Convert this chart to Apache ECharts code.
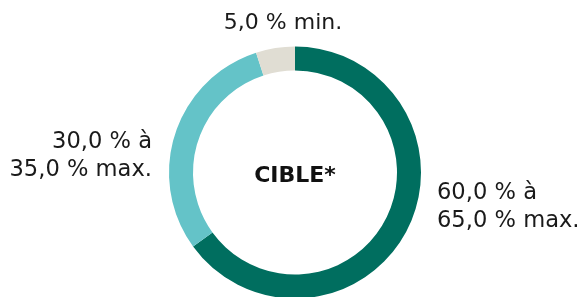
<!DOCTYPE html>
<html>
<head>
<meta charset="utf-8">
<script src="https://cdn.jsdelivr.net/npm/echarts@6/dist/echarts.min.js"></script>
<style>
html,body{margin:0;padding:0;background:#fff;}
#c{width:582px;height:297px;}
</style>
</head>
<body>
<div id="c"></div>
<script>
const categories = ['Actions', 'Obligations', 'Liquidités'];
const values = [65, 30, 5];
const colors = ['#006e5f', '#64c3c8', '#e0ddd3'];
const labelTexts = ['60,0 % à\n65,0 % max.', '30,0 % à\n35,0 % max.', '5,0 % min.'];
const centerText = 'CIBLE*';

const chart = echarts.init(document.getElementById('c'), null, {renderer: 'canvas'});
const font = '"DejaVu Sans", sans-serif';
const txt = '#1a1a1a';
chart.setOption({
  animation: false,
  series: [{
    type: 'pie',
    center: [295, 172.5],
    radius: [102, 126],
    startAngle: 90,
    clockwise: true,
    silent: true,
    label: {show: false},
    labelLine: {show: false},
    itemStyle: {borderWidth: 0},
    data: categories.map((n, i) => ({name: n, value: values[i], itemStyle: {color: colors[i]}}))
  }],
  graphic: [
    {type: 'text', style: {x: 437, y: 207, text: labelTexts[0], font: '22.6px ' + font, lineHeight: 28, fill: txt, textAlign: 'left', textVerticalAlign: 'middle'}},
    {type: 'text', style: {x: 152, y: 156, text: labelTexts[1], font: '22.6px ' + font, lineHeight: 28, fill: txt, textAlign: 'right', textVerticalAlign: 'middle'}},
    {type: 'text', style: {x: 283, y: 23, text: labelTexts[2], font: '22px ' + font, fill: txt, textAlign: 'center', textVerticalAlign: 'middle'}},
    {type: 'text', style: {x: 295, y: 176, text: centerText, font: 'bold 22px ' + font, fill: '#111', textAlign: 'center', textVerticalAlign: 'middle'}}
  ]
});
</script>
</body>
</html>
